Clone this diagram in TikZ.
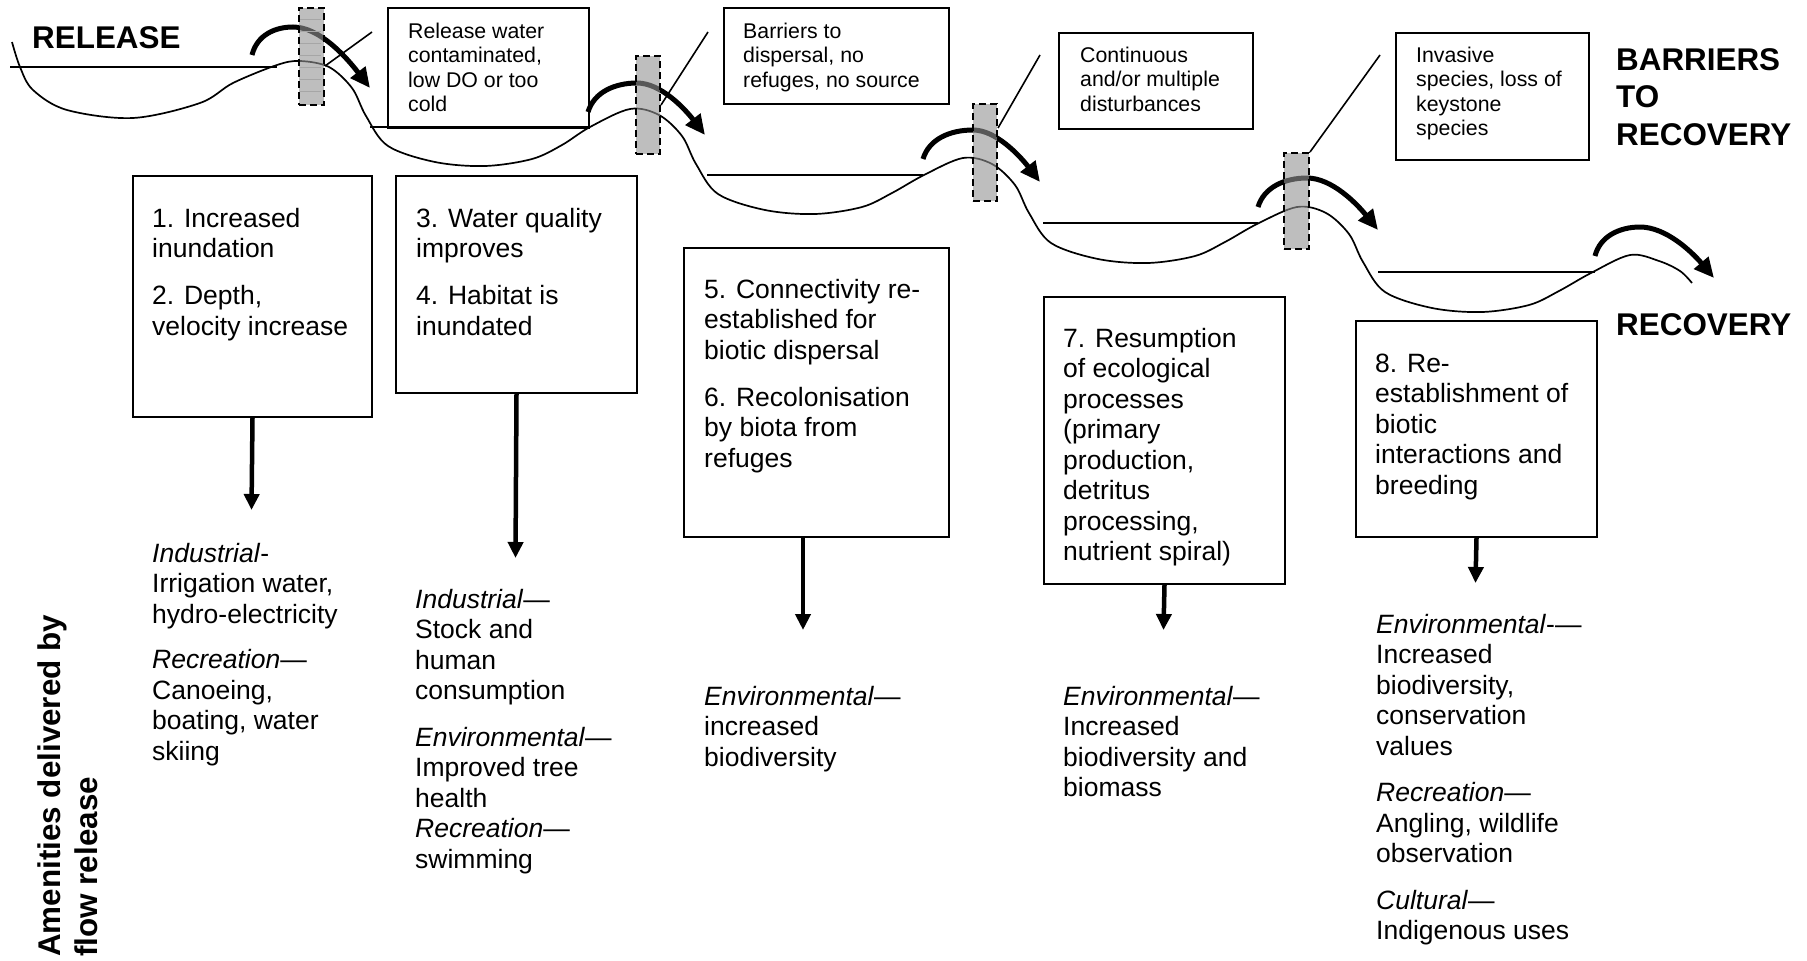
\documentclass[tikz,border=0pt]{standalone}
\usepackage{fontspec}
\setmainfont{Liberation Sans}
\usetikzlibrary{arrows.meta}

\newcommand\bodyfont{\fontsize{26.5}{30.5}\selectfont}
\newcommand\notefont{\fontsize{21.3}{24.5}\selectfont}
\newcommand\headfont{\bfseries\fontsize{31.4}{37.5}\selectfont}

\begin{document}
\begin{tikzpicture}[x=1pt,y=-1pt,
  stagebox/.style={draw, line width=2pt, anchor=north west, inner sep=0pt},
  barrier/.style={draw, line width=2pt, dash pattern=on 7pt off 4pt,
    fill=black!42, fill opacity=0.6, draw opacity=1,
    anchor=north west, inner sep=0pt},
  river/.style={line width=1.7pt},
  waterline/.style={line width=2pt},
  flowarrow/.style={line width=5pt, -{Triangle[length=20pt,width=18pt]}},
  leader/.style={line width=1.6pt},
  outarrow/.style={line width=4.5pt, -{Triangle[length=16pt,width=15pt]}},
  bodytxt/.style={anchor=base west, inner sep=0pt, font=\bodyfont},
  notetxt/.style={anchor=base west, inner sep=0pt, font=\notefont},
  headtxt/.style={anchor=base west, inner sep=0pt, font=\headfont},
]
\path[use as bounding box, fill=white] (0,0) rectangle (1807,961);

% ---------- river bed profile, falling step by step ----------
\draw[river] plot[smooth, tension=0.55] coordinates {
  (12,42) (20,67) (33,90) (67,110) (133,118) (200,103) (233,83) (277,65)
  (300,61)
  (329,67) (352,88) (366,116) (388,146) (435,162) (485,166) (532,159) (562,145) (590,127)
  (630,109)
  (659,115) (682,136) (696,164) (718,194) (765,210) (815,214) (862,207) (892,193) (924,175)
  (963,158)
  (992,164) (1015,185) (1029,213) (1051,243) (1098,259) (1148,263) (1195,256) (1225,242) (1257,224)
  (1297,207)
  (1326,213) (1349,234) (1363,262) (1385,292) (1432,308) (1482,312) (1529,305) (1559,291) (1591,273)
  (1630,255)
  (1659,261) (1680,271) (1692,283)};

% ---------- water levels in the pools ----------
\draw[waterline] (10,67) -- (277,67);
\draw[waterline] (370,127) -- (588,127);
\draw[waterline] (707,175) -- (923,175);
\draw[waterline] (1043,223) -- (1258,223);
\draw[waterline] (1378,272) -- (1595,272);

% ---------- flow passing over each riffle ----------
\coordinate (s1) at (252,55);   \coordinate (p1) at (293,27);   \coordinate (f1) at (370,88);
\coordinate (s2) at (588,112);  \coordinate (p2) at (637,83);   \coordinate (f2) at (705,135);
\coordinate (s3) at (923,159);  \coordinate (p3) at (973,130);  \coordinate (f3) at (1040,182);
\coordinate (s4) at (1258,207); \coordinate (p4) at (1307,178); \coordinate (f4) at (1378,230);
\coordinate (s5) at (1595,256); \coordinate (p5) at (1640,227); \coordinate (f5) at (1714,278);
\draw[flowarrow] (s1) .. controls (257,35) and (275,27) .. (p1) .. controls (320,27) and (347,58) .. (f1);
\draw[flowarrow] (s2) .. controls (594,92) and (615,83) .. (p2) .. controls (661,83) and (685,109) .. (f2);
\draw[flowarrow] (s3) .. controls (929,139) and (950,130) .. (p3) .. controls (996,130) and (1020,156) .. (f3);
\draw[flowarrow] (s4) .. controls (1264,187) and (1285,178) .. (p4) .. controls (1332,178) and (1357,204) .. (f4);
\draw[flowarrow] (s5) .. controls (1600,236) and (1620,227) .. (p5) .. controls (1666,227) and (1692,252) .. (f5);

% ---------- barriers ----------
\node[barrier, minimum width=25pt, minimum height=97pt] (bar1) at (298,7) {};
\foreach \yy in {19,31,43,55,67,79,91}
  \draw[black!35, line width=0.8pt] (300,\yy) -- (321,\yy);
\node[barrier, minimum width=24pt, minimum height=98pt] (bar2) at (635,55) {};
\node[barrier, minimum width=24pt, minimum height=97pt] (bar3) at (972,103) {};
\node[barrier, minimum width=25pt, minimum height=96pt] (bar4) at (1283,152) {};

% ---------- leaders to the barriers ----------
\coordinate (l1) at (372,32);
\coordinate (l2) at (708,32);
\coordinate (l3) at (1040,55);
\coordinate (l4) at (1380,55);
\draw[leader] (l1) -- ([yshift=-9.5pt]bar1.east);
\draw[leader] (l2) -- (bar2.east);
\draw[leader] (l3) -- ([yshift=24.5pt]bar3.east);
\draw[leader] (l4) -- (bar4.north east);

% ---------- barriers to recovery ----------
\node[stagebox, minimum width=201pt, minimum height=120pt] (r1) at (387,7) {};
\node[stagebox, minimum width=225pt, minimum height=96pt] (r2) at (723,7) {};
\node[stagebox, minimum width=194pt, minimum height=96pt] (r3) at (1058,32) {};
\node[stagebox, minimum width=193pt, minimum height=127pt] (r4) at (1395,32) {};
\node[notetxt] (rt1) at ([shift={(21,31)}]r1.north west)
  {\parbox[t]{190pt}{\raggedright Release water\\contaminated,\\low DO or too\\cold}};
\node[notetxt] (rt2) at ([shift={(20,31)}]r2.north west)
  {\parbox[t]{210pt}{\raggedright Barriers to\\dispersal, no\\refuges, no source}};
\node[notetxt] (rt3) at ([shift={(22,30)}]r3.north west)
  {\parbox[t]{190pt}{\raggedright Continuous\\and/or multiple\\disturbances}};
\node[notetxt] (rt4) at ([shift={(21,30)}]r4.north west)
  {\parbox[t]{190pt}{\raggedright Invasive\\species, loss of\\keystone\\species}};

% ---------- stages of recovery ----------
\node[stagebox, minimum width=239pt, minimum height=241pt] (b1) at (132,175) {};
\node[stagebox, minimum width=241pt, minimum height=217pt] (b2) at (395,175) {};
\node[stagebox, minimum width=265pt, minimum height=289pt] (b3) at (683,247) {};
\node[stagebox, minimum width=241pt, minimum height=287pt] (b4) at (1043,296) {};
\node[stagebox, minimum width=241pt, minimum height=216pt] (b5) at (1355,320) {};
\node[bodytxt] (bt1) at ([shift={(20,52)}]b1.north west)
  {\parbox[t]{230pt}{\raggedright 1. Increased\\inundation\\[16.5pt]2. Depth,\\velocity increase}};
\node[bodytxt] (bt2) at ([shift={(21,52)}]b2.north west)
  {\parbox[t]{230pt}{\raggedright 3. Water quality\\improves\\[16.5pt]4. Habitat is\\inundated}};
\node[bodytxt] (bt3) at ([shift={(21,51)}]b3.north west)
  {\parbox[t]{250pt}{\raggedright 5. Connectivity re-\\established for\\biotic dispersal\\[16.5pt]6. Recolonisation\\by biota from\\refuges}};
\node[bodytxt] (bt4) at ([shift={(20,51)}]b4.north west)
  {\parbox[t]{230pt}{\raggedright 7. Resumption\\of ecological\\processes\\(primary\\production,\\detritus\\processing,\\nutrient spiral)}};
\node[bodytxt] (bt5) at ([shift={(20,52)}]b5.north west)
  {\parbox[t]{230pt}{\raggedright 8. Re-\\establishment of\\biotic\\interactions and\\breeding}};

% ---------- arrows to the amenities ----------
\coordinate (e1) at (251.5,510);
\coordinate (e2) at (515.5,558);
\coordinate (e3) at (803,630);
\coordinate (e4) at (1163.5,630);
\coordinate (e5) at (1475.5,583);
\draw[outarrow] (b1.south) -- (e1);
\draw[outarrow] (b2.south) -- (e2);
\draw[outarrow] (b3.south -| e3) -- (e3);
\draw[outarrow] (b4.south) -- (e4);
\draw[outarrow] (b5.south) -- (e5);

% ---------- amenities ----------
\node[bodytxt] (a1) at (152,562)
  {\parbox[t]{240pt}{\raggedright \textit{Industrial}-\\Irrigation water,\\hydro-electricity\\[15pt]\textit{Recreation}—\\Canoeing,\\boating, water\\skiing}};
\node[bodytxt] (a2) at (415,608)
  {\parbox[t]{240pt}{\raggedright \textit{Industrial}—\\Stock and\\human\\consumption\\[16pt]\textit{Environmental}—\\Improved tree\\health\\\textit{Recreation}—\\swimming}};
\node[bodytxt] (a3) at (704,705)
  {\parbox[t]{240pt}{\raggedright \textit{Environmental}—\\increased\\biodiversity}};
\node[bodytxt] (a4) at (1063,705)
  {\parbox[t]{240pt}{\raggedright \textit{Environmental}—\\Increased\\biodiversity and\\biomass}};
\node[bodytxt] (a5) at (1376,633)
  {\parbox[t]{240pt}{\raggedright \textit{Environmental}-—\\Increased\\biodiversity,\\conservation\\values\\[16pt]\textit{Recreation}—\\Angling, wildlife\\observation\\[16pt]\textit{Cultural}—\\Indigenous uses}};

% ---------- headings ----------
\node[headtxt] (rel) at (32,48) {RELEASE};
\node[headtxt] (btr) at (1616,70) {\parbox[t]{200pt}{\raggedright BARRIERS\\TO\\RECOVERY}};
\node[headtxt] (rec) at (1616,335) {RECOVERY};
\node[headtxt, rotate=90] (amen) at (60,957)
  {\parbox[t]{400pt}{\raggedright\baselineskip=37pt Amenities delivered by\\flow release}};
\end{tikzpicture}
\end{document}
